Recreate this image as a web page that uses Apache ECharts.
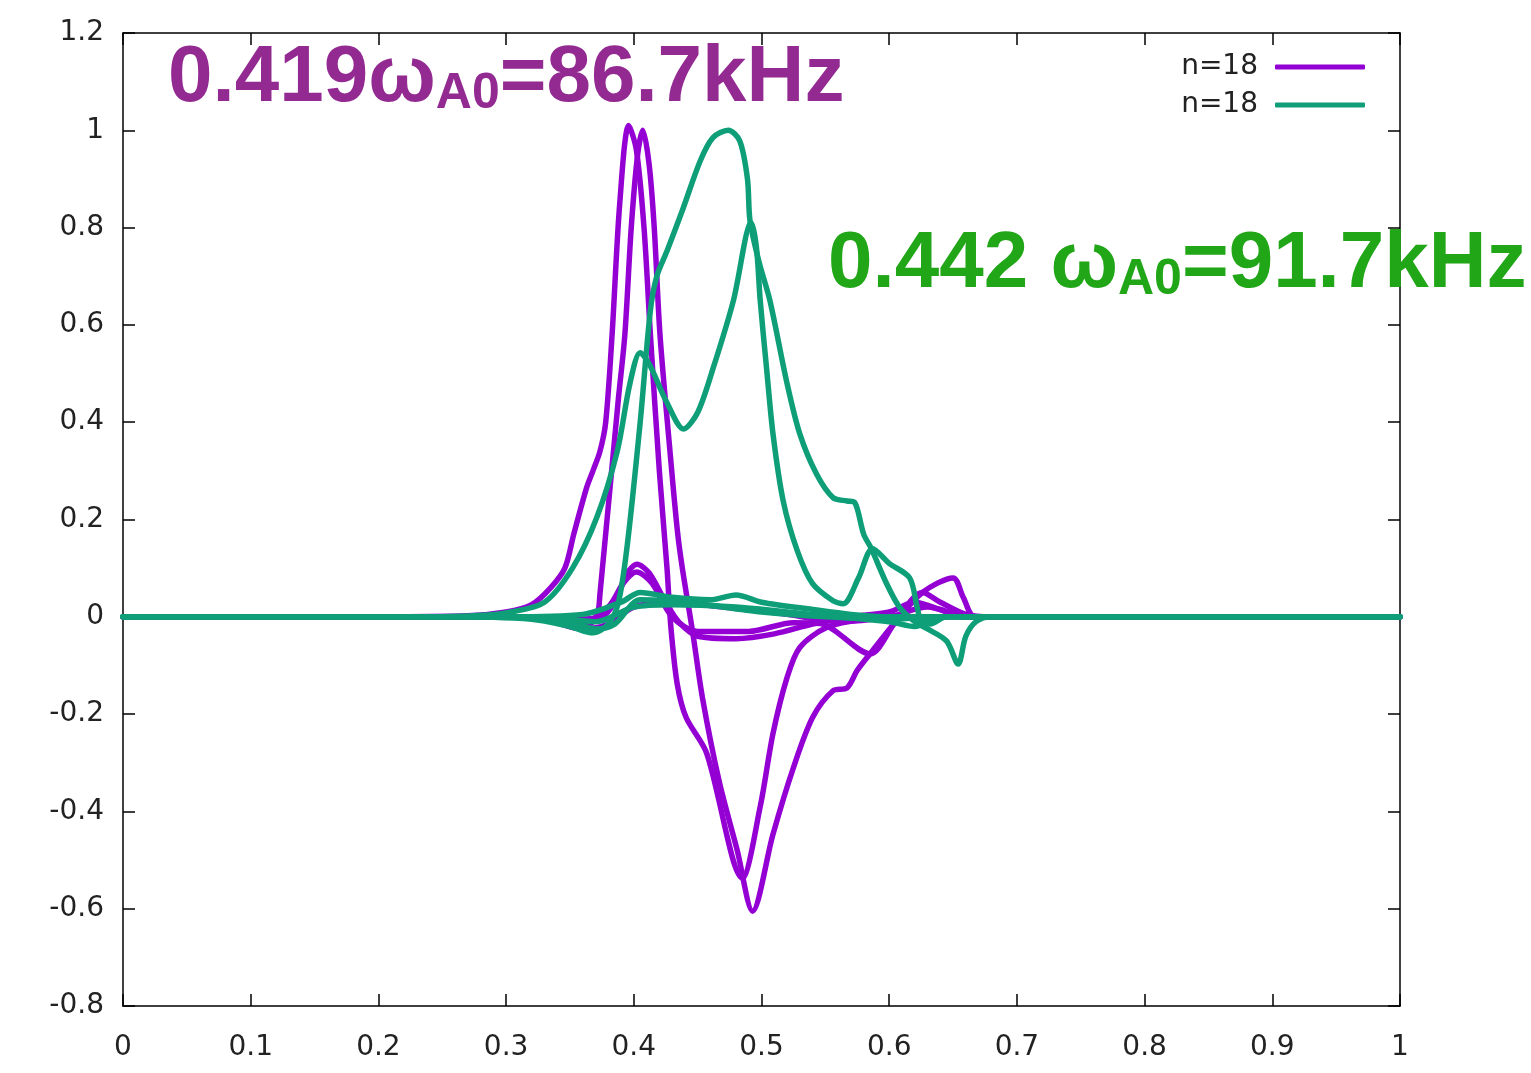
<!DOCTYPE html>
<html>
<head>
<meta charset="utf-8">
<script src="https://cdn.jsdelivr.net/npm/echarts@6/dist/echarts.min.js"></script>
<style>
html,body{margin:0;padding:0;background:#fff;}
#chart{width:1531px;height:1073px;}
</style>
</head>
<body>
<div id="chart"></div>
<script>
// ---- data (x, y) ----
const xTickLabels = ['0','0.1','0.2','0.3','0.4','0.5','0.6','0.7','0.8','0.9','1'];
const legendNames = ['n=18', 'n=18 '];

const purpleA = [[0,0],[0.2,0],[0.27,0.002],[0.3,0.01],[0.32,0.025],[0.335,0.06],[0.346,0.1],[0.353,0.17],[0.363,0.265],[0.368,0.3],[0.3735,0.34],[0.378,0.4],[0.383,0.58],[0.389,0.85],[0.396,1.01],[0.402,0.96],[0.408,0.8],[0.413,0.58],[0.42,0.3],[0.426,0.1],[0.429,-0.02],[0.434,-0.138],[0.441,-0.207],[0.457,-0.28],[0.485,-0.537],[0.499,-0.39],[0.509,-0.24],[0.52,-0.125],[0.53,-0.063],[0.551,-0.022],[0.58,-0.005],[0.62,0],[1,0]];
const purpleB = [[0,0],[0.3,0],[0.34,-0.01],[0.36,-0.02],[0.368,-0.01],[0.372,0.01],[0.3735,0.047],[0.383,0.31],[0.388,0.45],[0.393,0.58],[0.398,0.8],[0.403,0.95],[0.407,1.0],[0.412,0.93],[0.416,0.8],[0.4205,0.58],[0.428,0.35],[0.434,0.18],[0.438,0.1],[0.446,-0.03],[0.454,-0.17],[0.467,-0.34],[0.481,-0.48],[0.493,-0.605],[0.509,-0.447],[0.525,-0.31],[0.54,-0.207],[0.556,-0.152],[0.567,-0.146],[0.575,-0.11],[0.585,-0.076],[0.605,-0.01],[0.626,0.05],[0.65,0.08],[0.658,0.04],[0.667,0.0],[0.7,0],[1,0]];
const purpleC = [[0,0],[0.3,0],[0.35,-0.005],[0.375,0],[0.385,0.03],[0.395,0.09],[0.4025,0.108],[0.412,0.09],[0.425,0.03],[0.435,-0.01],[0.45,-0.04],[0.48,-0.045],[0.51,-0.035],[0.54,-0.015],[0.57,0],[0.6,0.01],[0.62,0.03],[0.64,0.015],[0.66,0],[1,0]];
const purpleD = [[0,0],[0.3,0],[0.36,-0.01],[0.38,0.02],[0.392,0.07],[0.402,0.092],[0.414,0.07],[0.43,0.0],[0.45,-0.03],[0.49,-0.03],[0.525,-0.012],[0.546,-0.014],[0.585,-0.076],[0.605,-0.01],[0.626,0.05],[0.64,0.03],[0.66,0.005],[0.68,0],[1,0]];
const purpleE = [[0,0],[0.32,0],[0.36,-0.025],[0.38,-0.015],[0.4,0.02],[0.43,0.03],[0.47,0.02],[0.52,0.005],[0.56,-0.01],[0.6,0.0],[0.63,0.02],[0.66,0],[1,0]];

const greenA = [[0,0],[0.25,0],[0.32,-0.005],[0.35,-0.02],[0.368,-0.033],[0.38,-0.015],[0.388,0.03],[0.395,0.15],[0.405,0.4],[0.413,0.63],[0.418,0.7],[0.426,0.752],[0.438,0.835],[0.452,0.937],[0.462,0.985],[0.474,1.0],[0.483,0.978],[0.489,0.9],[0.491,0.814],[0.498,0.73],[0.5066,0.65],[0.52,0.48],[0.53,0.376],[0.543,0.294],[0.556,0.245],[0.567,0.238],[0.573,0.235],[0.58,0.17],[0.586,0.14],[0.598,0.068],[0.608,0.02],[0.62,-0.01],[0.63,-0.025],[0.645,-0.05],[0.654,-0.097],[0.66,-0.04],[0.668,-0.01],[0.68,0],[1,0]];
const greenB = [[0,0],[0.25,0],[0.28,0.003],[0.3,0.008],[0.33,0.03],[0.352,0.1],[0.371,0.204],[0.387,0.34],[0.397,0.48],[0.405,0.543],[0.412,0.52],[0.426,0.44],[0.439,0.386],[0.45,0.42],[0.462,0.51],[0.478,0.65],[0.492,0.81],[0.496,0.76],[0.499,0.65],[0.504,0.51],[0.509,0.376],[0.517,0.238],[0.528,0.136],[0.54,0.068],[0.556,0.033],[0.564,0.027],[0.576,0.08],[0.587,0.14],[0.6,0.11],[0.616,0.08],[0.622,0.018],[0.625,-0.008],[0.632,-0.015],[0.645,0],[1,0]];
const greenC = [[0,0],[0.3,0],[0.36,0.005],[0.39,0.03],[0.405,0.05],[0.43,0.04],[0.46,0.035],[0.48,0.045],[0.5,0.03],[0.54,0.015],[0.57,0.005],[0.6,0],[1,0]];
const greenD = [[0,0],[0.3,0],[0.35,-0.01],[0.37,-0.025],[0.385,-0.015],[0.405,0.035],[0.44,0.03],[0.5,0.01],[0.55,0.0],[0.6,-0.005],[0.64,0],[1,0]];
const greenE = [[0,0],[0.33,0],[0.37,-0.01],[0.4,0.02],[0.43,0.025],[0.48,0.02],[0.52,0.01],[0.56,0.0],[0.6,-0.01],[0.62,-0.02],[0.64,0],[1,0]];

const purpleSeries = [purpleA, purpleB, purpleC, purpleD, purpleE];
const greenSeries = [greenA, greenB, greenC, greenD, greenE];

const PURPLE = '#9400D3';
const GREEN = '#0E9E78';
const tickFont = 'DejaVu Sans';

function mkSeries(data, name, color) {
  return {
    type: 'line', name: name, data: data, showSymbol: false, symbol: 'none',
    smooth: 0.3,
    lineStyle: { color: color, width: 5.5, cap: 'round', join: 'round' },
    itemStyle: { color: color },
    emphasis: { disabled: true }, animation: false
  };
}

const series = [];
purpleSeries.forEach(d => series.push(mkSeries(d, legendNames[0], PURPLE)));
greenSeries.forEach(d => series.push(mkSeries(d, legendNames[1], GREEN)));

const axisLine = { show: true, onZero: false, lineStyle: { color: '#000', width: 1.5 } };
const axisTick = { show: true, inside: true, length: 12, lineStyle: { color: '#000', width: 1.5 } };

const chart = echarts.init(document.getElementById('chart'));
chart.setOption({
  animation: false,
  backgroundColor: '#fff',
  grid: { left: 123, right: 131, top: 33, bottom: 67, containLabel: false },
  xAxis: [
    { type: 'value', min: 0, max: 1, interval: 0.1, position: 'bottom',
      axisLine: axisLine, axisTick: axisTick, splitLine: { show: false },
      axisLabel: { margin: 28, fontFamily: tickFont, fontSize: 28, color: '#222',
        formatter: (v) => xTickLabels[Math.round(v * 10)] } },
    { type: 'value', min: 0, max: 1, interval: 0.1, position: 'top',
      axisLine: axisLine, axisTick: axisTick, splitLine: { show: false },
      axisLabel: { show: false } }
  ],
  yAxis: [
    { type: 'value', min: -0.8, max: 1.2, interval: 0.2, position: 'left',
      axisLine: axisLine, axisTick: axisTick, splitLine: { show: false },
      axisLabel: { margin: 19, fontFamily: tickFont, fontSize: 28, color: '#222',
        formatter: (v) => String(Math.round(v * 10) / 10) } },
    { type: 'value', min: -0.8, max: 1.2, interval: 0.2, position: 'right',
      axisLine: axisLine, axisTick: axisTick, splitLine: { show: false },
      axisLabel: { show: false } }
  ],
  legend: {
    data: legendNames, orient: 'vertical', right: 166, top: 52, padding: 0,
    align: 'right', icon: 'roundRect', itemWidth: 90, itemHeight: 5, itemGap: 8,
    selectedMode: false,
    formatter: (n) => n.trim(),
    textStyle: { fontFamily: tickFont, fontSize: 28, color: '#222', lineHeight: 30, padding: [0, 12, 0, 0] }
  },
  graphic: [
    { type: 'text', left: 168, top: 39, z: 100,
      style: { text: '{m|0.419ω}{s|A0}{m|=86.7kHz}',
        rich: {
          m: { fontSize: 80, fontWeight: 'bold', fontFamily: 'Liberation Sans', fill: '#932A92', lineHeight: 80 },
          s: { fontSize: 50, fontWeight: 'bold', fontFamily: 'Liberation Sans', fill: '#932A92', lineHeight: 46, verticalAlign: 'bottom' }
        } } },
    { type: 'text', left: 828, top: 225, z: 100,
      style: { text: '{m|0.442 ω}{s|A0}{m|=91.7kHz}',
        rich: {
          m: { fontSize: 80, fontWeight: 'bold', fontFamily: 'Liberation Sans', fill: '#20A617', lineHeight: 80 },
          s: { fontSize: 50, fontWeight: 'bold', fontFamily: 'Liberation Sans', fill: '#20A617', lineHeight: 46, verticalAlign: 'bottom' }
        } } }
  ],
  series: series
});
</script>
</body>
</html>
